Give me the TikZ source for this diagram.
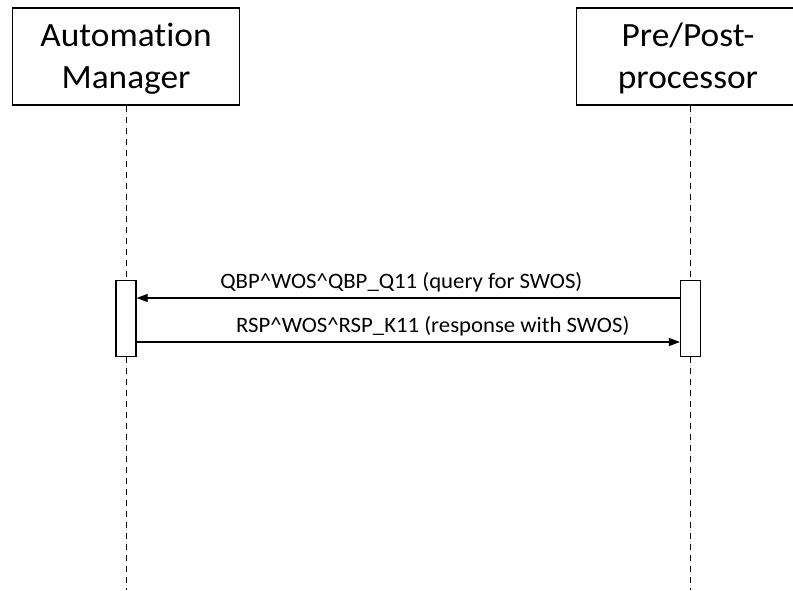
\documentclass[tikz,border=0pt]{standalone}
\usepackage{fontspec}
\setmainfont{Carlito}[Ligatures=NoCommon]
\newfontfamily\boxfont{Carlito}[Ligatures=NoCommon, FakeStretch=1.04]
\newfontfamily\labfont{Carlito}[Ligatures=NoCommon, FakeStretch=1.035]
\usetikzlibrary{arrows.meta}
\tikzset{
  actor/.style={draw, line width=1.5pt, minimum width=227pt, minimum height=97pt, inner sep=0pt},
  actortext/.style={anchor=base, align=center, inner sep=0pt, font=\boxfont\fontsize{34}{41.6}\selectfont},
  actbar/.style={draw, line width=1.2pt, fill=white, minimum width=20pt, minimum height=76pt, inner sep=0pt},
  life/.style={line width=0.9pt, dash pattern=on 6pt off 5pt},
  msg/.style={line width=1.1pt, -{Triangle[length=11pt,width=8pt]}},
  msglabel/.style={pos=0, yshift=10pt, font=\labfont\fontsize{22}{24}\selectfont, inner sep=0pt}
}
\begin{document}
\begin{tikzpicture}[x=1pt, y=-1pt]
\useasboundingbox (0,0) rectangle (793,590);
\clip (0,0) rectangle (793,590);
\node[actor] (am) at (126,56.5) {};
\node[actor] (pp) at (690,56.5) {};
\node[actortext] (amtext) at (126,88.3) {Automation\\Manager};
\node[actortext] (pptext) at (688,88) {Pre/Post-\\processor};
\node[actbar] (amact) at (126,318.5) {};
\node[actbar] (ppact) at (690.5,318.5) {};
\coordinate (amend) at (126,590);
\coordinate (ppend) at (690.5,590);
\draw[life] (am.south) -- (amact.north);
\draw[life] (amact.south) -- (amend);
\draw[life] (pp.south -| ppact.north) -- (ppact.north);
\draw[life] (ppact.south) -- (ppend);
\draw[msg] ([yshift=20.5pt]ppact.west) -- ([yshift=20.5pt]amact.east)
  node[msglabel, anchor=base east, xshift=-97pt] {QBP\^{}WOS\^{}QBP\_Q11 (query for SWOS)};
\draw[msg] ([yshift=-23.5pt]amact.east) -- ([yshift=-23.5pt]ppact.west)
  node[msglabel, anchor=base west, xshift=99pt] {RSP\^{}WOS\^{}RSP\_K11 (response with SWOS)};
\end{tikzpicture}
\end{document}
